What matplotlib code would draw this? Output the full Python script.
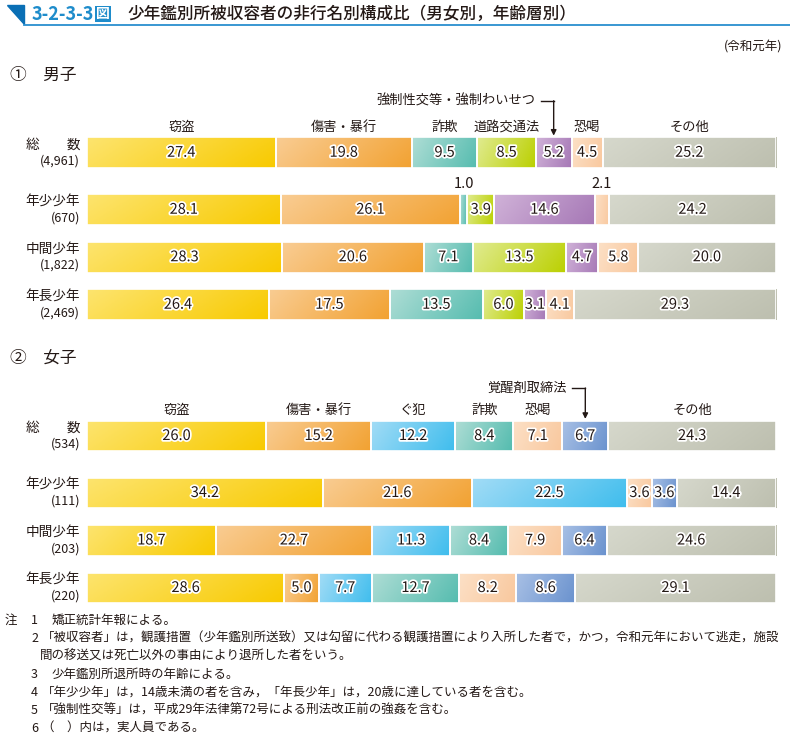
import numpy as np
import matplotlib
matplotlib.use("Agg")
import matplotlib.pyplot as plt
import matplotlib.patheffects as pe
from matplotlib.colors import LinearSegmentedColormap
from matplotlib.patches import Polygon

plt.rcParams['font.family'] = ['Noto Sans CJK JP', 'DejaVu Sans']

# ---- data ----
male_rows = ["総　　数", "年少少年", "中間少年", "年長少年"]
male_counts = ["(4,961)", "(670)", "(1,822)", "(2,469)"]
male_cats = ["窃盗", "傷害・暴行", "詐欺", "道路交通法", "強制性交等・強制わいせつ", "恐喝", "その他"]
male_vals = np.array([
    [27.4, 19.8, 9.5, 8.5, 5.2, 4.5, 25.2],
    [28.1, 26.1, 1.0, 3.9, 14.6, 2.1, 24.2],
    [28.3, 20.6, 7.1, 13.5, 4.7, 5.8, 20.0],
    [26.4, 17.5, 13.5, 6.0, 3.1, 4.1, 29.3],
])

female_rows = ["総　　数", "年少少年", "中間少年", "年長少年"]
female_counts = ["(534)", "(111)", "(203)", "(220)"]
female_cats = ["窃盗", "傷害・暴行", "ぐ犯", "詐欺", "恐喝", "覚醒剤取締法", "その他"]
female_vals = np.array([
    [26.0, 15.2, 12.2, 8.4, 7.1, 6.7, 24.3],
    [34.2, 21.6, 22.5, 0.0, 3.6, 3.6, 14.4],
    [18.7, 22.7, 11.3, 8.4, 7.9, 6.4, 24.6],
    [28.6, 5.0, 7.7, 12.7, 8.2, 8.6, 29.1],
])

notes = [
    ("注", "1", "矯正統計年報による。"),
    ("", "2", "「被収容者」は，観護措置（少年鑑別所送致）又は勾留に代わる観護措置により入所した者で，かつ，令和元年において逃走，施設"),
    ("", "", "間の移送又は死亡以外の事由により退所した者をいう。"),
    ("", "3", "少年鑑別所退所時の年齢による。"),
    ("", "4", "「年少少年」は，14歳未満の者を含み，「年長少年」は，20歳に達している者を含む。"),
    ("", "5", "「強制性交等」は，平成29年法律第72号による刑法改正前の強姦を含む。"),
    ("", "6", "（　）内は，実人員である。"),
]

# light -> dark gradient ends for each category
colors = {
    "窃盗": ("#FDE46E", "#F8CA00"),
    "傷害・暴行": ("#F9CC92", "#F2A232"),
    "詐欺": ("#AEDDD5", "#55BCAF"),
    "道路交通法": ("#E0EB90", "#BBD000"),
    "強制性交等・強制わいせつ": ("#D0B2D8", "#A678B6"),
    "恐喝": ("#FCE0C6", "#F9C89E"),
    "その他": ("#D6D8CC", "#BDBFAF"),
    "ぐ犯": ("#A2DCF6", "#3FBDED"),
    "覚醒剤取締法": ("#A8C0E5", "#6A92CE"),
}

W, H = 790, 735
ROW_Y = [0, 1.2, 2.2, 3.2]
BAR_H = 0.65
TXT = "#231815"


def fpx(x, y):
    return x / W, 1 - y / H


def draw_section(ax, rows, counts, cats, vals):
    ax.set_xlim(0, 100)
    ax.set_ylim(3.7, -0.5)
    ax.axis("off")
    yy, xx = np.mgrid[0:1:20j, 0:1:60j]
    grad = 0.8 * xx + 0.2 * yy
    for i, row in enumerate(vals):
        shares = row / row.sum() * 100
        left = 0
        for j, v in enumerate(shares):
            if v <= 0:
                continue
            light, dark = colors[cats[j]]
            cmap = LinearSegmentedColormap.from_list("g", [light, dark])
            bar = ax.barh(ROW_Y[i], v, left=left, height=BAR_H, color=dark,
                          edgecolor="white", linewidth=1.2)[0]
            im = ax.imshow(grad, cmap=cmap, aspect="auto", zorder=2,
                           extent=(left, left + v, ROW_Y[i] + BAR_H / 2, ROW_Y[i] - BAR_H / 2))
            im.set_clip_path(bar)
            ax.add_patch(plt.Rectangle((left, ROW_Y[i] - BAR_H / 2), v, BAR_H, fill=False,
                                       edgecolor="white", linewidth=1.2, zorder=3))
            label = f"{row[j]:.1f}"
            if v < 2.5:
                ax.text(left + v / 2, ROW_Y[i] - 0.55, label, ha="center", va="center",
                        fontsize=10.5, color=TXT)
            else:
                ax.text(left + v / 2, ROW_Y[i], label, ha="center", va="center",
                        fontsize=10.5, color=TXT, zorder=4,
                        path_effects=[pe.withStroke(linewidth=2.5, foreground="white")])
            left += v
        ax.text(-1.0, ROW_Y[i] - 0.17, rows[i], ha="right", va="center", fontsize=9.8,
                color=TXT, clip_on=False)
        ax.text(-1.0, ROW_Y[i] + 0.17, counts[i], ha="right", va="center", fontsize=9,
                color=TXT, clip_on=False)
    shares = vals[0] / vals[0].sum() * 100
    starts = np.concatenate([[0], np.cumsum(shares)[:-1]])
    return starts + shares / 2


def pointer(ax, x, ty, name):
    ax.text(x - 2.6, ty, name, ha="right", va="center", fontsize=9.5, color=TXT)
    ax.plot([x - 1.9, x], [ty, ty], color=TXT, linewidth=1, clip_on=False)
    ax.annotate("", xy=(x, -0.36), xytext=(x, ty),
                arrowprops=dict(arrowstyle="-|>", color=TXT, lw=1, mutation_scale=8,
                                shrinkA=0, shrinkB=0))


fig = plt.figure(figsize=(W / 100, H / 100), dpi=100)

# title
tri = Polygon([fpx(7, 5), fpx(24, 5), fpx(24, 24)], closed=True, transform=fig.transFigure,
              color="#0A6FB5")
fig.patches.append(tri)
fig.add_artist(plt.Line2D([24 / W, 1], [1 - 24.5 / H, 1 - 24.5 / H], color="#2A8FCF",
                          linewidth=1.3, transform=fig.transFigure))
fig.text(*fpx(32, 14), "3-2-3-3", fontsize=13, fontweight="bold", color="#1E8CCB", va="center")
fig.text(*fpx(96, 14), "図", fontsize=10, fontweight="bold", color="white", va="center",
         bbox=dict(boxstyle="square,pad=0.08", facecolor="#1E8CCB", edgecolor="none"))
fig.text(*fpx(127, 14), "少年鑑別所被収容者の非行名別構成比（男女別，年齢層別）", fontsize=12,
         fontweight="medium", color=TXT, va="center")
fig.text(*fpx(782, 47), "(令和元年)", fontsize=9, color=TXT, ha="right", va="center")
fig.text(*fpx(10, 75), "①　男子", fontsize=12, color=TXT, va="center")
fig.text(*fpx(10, 358), "②　女子", fontsize=12, color=TXT, va="center")

# male
ax1 = fig.add_axes([87 / W, 1 - 328.5 / H, 689 / W, 199.5 / H])
c1 = draw_section(ax1, male_rows, male_counts, male_cats, male_vals)
for k, name in enumerate(male_cats):
    if k != 4:
        ax1.text(c1[k], -0.53, name, ha="center", va="center", fontsize=9.5, color=TXT)
pointer(ax1, c1[4], (101 - 153) / 47.5, male_cats[4])

# female
ax2 = fig.add_axes([87 / W, 1 - 611.75 / H, 689 / W, 199.5 / H])
c2 = draw_section(ax2, female_rows, female_counts, female_cats, female_vals)
for k, name in enumerate(female_cats):
    if k != 5:
        ax2.text(c2[k], -0.53, name, ha="center", va="center", fontsize=9.5, color=TXT)
pointer(ax2, c2[5], (389 - 437) / 47.5, female_cats[5])

# notes
for i, (head, num, body) in enumerate(notes):
    y = 620 + 18 * i
    if head:
        fig.text(*fpx(5, y), head, fontsize=9, color=TXT, va="center")
    if num:
        fig.text(*fpx(31, y), num, fontsize=9, color=TXT, va="center")
    if not num:
        x0 = 40
    elif body[0] in "「（":
        x0 = 42
    else:
        x0 = 52
    fig.text(*fpx(x0, y), body, fontsize=9, color=TXT, va="center")

fig.savefig("out.png", dpi=100)
